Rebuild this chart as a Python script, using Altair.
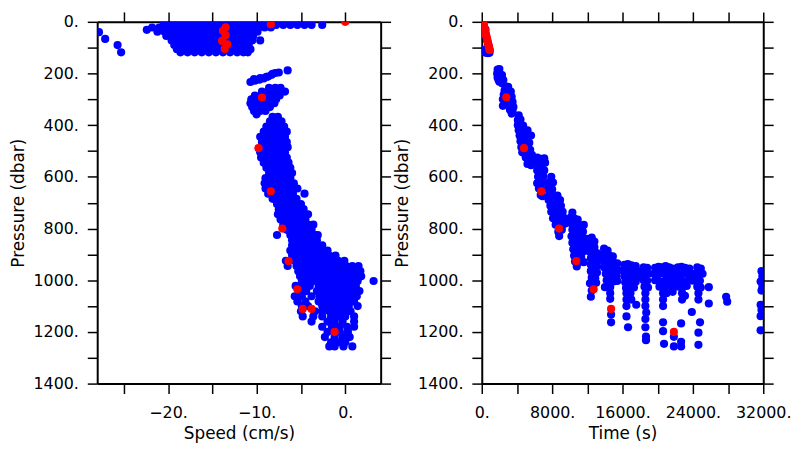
import altair as alt
import pandas as pd

# ======================= LEFT PANEL: Speed (cm/s) vs Pressure (dbar) =======================
# isolated near-surface points (speed, pressure)
surface_outliers = [(-27.8, 40), (-27.1, 66), (-25.7, 90), (-25.3, 118), (-22.4, 31)]

# near-surface cloud: pressure levels and the speeds observed at each
surface_p = [12, 22, 38, 55, 72, 90, 106, 118]
surface_speeds = [
    [-20.5, -19.8, -19.0, -18.2, -17.4, -16.6, -15.8, -15.0, -14.2, -13.4, -12.6, -11.8,
     -11.0, -10.2, -9.4, -8.6, -7.8, -7.0, -6.2, -5.4, -4.6, -3.8, -2.6],
    [-21.8, -21.0, -20.3, -19.6, -18.9, -18.2, -17.5, -16.8, -16.1, -15.4, -14.7, -14.0,
     -13.3, -12.6, -11.9, -11.2, -10.5, -9.8, -9.1, -8.4],
    [-21.2, -20.4, -19.7, -19.0, -18.3, -17.6, -16.9, -16.2, -15.5, -14.8, -14.1, -13.4,
     -12.7, -12.0, -11.3, -10.6, -9.9],
    [-20.2, -19.5, -18.8, -18.1, -17.4, -16.7, -16.0, -15.3, -14.6, -13.9, -13.2, -12.5,
     -11.8, -11.1, -10.4],
    [-19.6, -18.9, -18.2, -17.5, -16.8, -16.1, -15.4, -14.7, -14.0, -13.3, -12.6, -11.9,
     -11.2, -10.5, -9.6],
    [-19.3, -18.6, -17.9, -17.2, -16.5, -15.8, -15.1, -14.4, -13.7, -13.0, -12.3, -11.6, -10.9],
    [-19.0, -18.3, -17.6, -16.9, -16.2, -15.5, -14.8, -14.1, -13.4, -12.7, -12.0, -11.3, -10.7],
    [-18.6, -17.8, -17.0, -16.2, -15.4, -14.6, -13.8, -13.0, -12.2, -11.5, -11.0],
]

# streak near 200 dbar (speed, pressure)
streak_200 = [(-10.7, 233), (-10.2, 228), (-9.7, 224), (-9.2, 219), (-8.7, 212), (-8.3, 205),
              (-7.9, 198), (-7.5, 196), (-6.5, 188), (-10.3, 222), (-9.6, 218), (-8.9, 213),
              (-8.2, 201)]

# blob 250-360 dbar
blob_p = [255, 270, 285, 300, 315, 330, 345, 358]
blob_speeds = [
    [-8.6, -7.9, -7.3],
    [-9.4, -8.7, -8.0, -7.3, -6.8],
    [-10.2, -9.5, -8.8, -8.1, -7.4],
    [-10.6, -9.9, -9.2, -8.5, -7.8],
    [-10.7, -10.0, -9.3, -8.6, -8.0],
    [-10.5, -9.8, -9.1, -8.5],
    [-10.3, -9.6, -9.0],
    [-10.0],
]

# main column 365-1256 dbar
main_p = [368, 385, 405, 425, 445, 465, 485, 505, 525, 545, 565, 585, 605, 625, 645, 665,
          685, 705, 725, 745, 765, 785, 805, 825, 845, 865, 885, 905, 925, 945, 965, 985,
          1003, 1022, 1042, 1062, 1082, 1100, 1120, 1140, 1160, 1180, 1200, 1220, 1240, 1256]
main_speeds = [
    [-8.2, -7.6],
    [-8.5, -7.8, -7.2],
    [-8.9, -8.2, -7.5, -6.9],
    [-9.2, -8.5, -7.8, -7.1, -6.6],
    [-9.6, -8.9, -8.2, -7.5, -6.8],
    [-9.4, -8.7, -8.0, -7.3, -6.6],
    [-9.2, -8.5, -7.8, -7.1, -6.5],
    [-9.6, -8.9, -8.2, -7.5, -6.8],
    [-9.5, -8.8, -8.1, -7.4, -6.6],
    [-9.2, -8.5, -7.8, -7.1, -6.4],
    [-8.9, -8.2, -7.5, -6.8, -6.2],
    [-8.6, -7.9, -7.2, -6.5, -6.0],
    [-9.0, -8.3, -7.6, -6.9, -6.2],
    [-9.1, -8.4, -7.7, -7.0, -6.3, -5.8],
    [-9.0, -8.3, -7.6, -6.9, -6.2, -5.4],
    [-8.7, -8.0, -7.3, -6.6, -5.9, -4.6],
    [-8.2, -7.5, -6.8, -6.1, -5.5],
    [-7.7, -7.0, -6.3, -5.6, -5.0],
    [-7.5, -6.8, -6.1, -5.4, -4.7],
    [-7.6, -6.9, -6.2, -5.5, -4.8, -4.2],
    [-7.3, -6.6, -5.9, -5.2, -4.5],
    [-7.0, -6.3, -5.6, -4.9, -4.2, -3.6],
    [-6.6, -5.9, -5.2, -4.5, -3.8],
    [-7.7, -6.2, -5.5, -4.8, -4.1, -3.4, -3.1],
    [-6.0, -5.3, -4.6, -3.9, -3.2],
    [-6.0, -5.3, -4.6, -3.9, -3.2, -2.6],
    [-6.2, -5.5, -4.8, -4.1, -3.4, -2.7, -2.0],
    [-6.0, -5.3, -4.6, -3.9, -3.2, -2.5, -1.8, -1.1],
    [-6.7, -5.7, -5.0, -4.3, -3.6, -2.9, -2.2, -1.5, -0.8, -0.1],
    [-6.5, -5.5, -4.8, -4.1, -3.4, -2.7, -2.0, -1.3, -0.6, 0.1, 0.8, 1.5],
    [-5.3, -4.6, -3.9, -3.2, -2.5, -1.8, -1.1, -0.4, 0.3, 1.0, 1.7],
    [-5.1, -4.4, -3.7, -3.0, -2.3, -1.6, -0.9, -0.2, 0.5, 1.2, 1.8],
    [-4.9, -4.2, -3.5, -2.8, -2.1, -1.4, -0.7, 0.0, 0.7, 1.4, 3.2],
    [-5.6, -4.8, -4.0, -3.0, -2.3, -1.6, -0.9, -0.2, 0.5, 1.2],
    [-5.2, -4.4, -3.2, -2.5, -1.8, -1.1, -0.4, 0.3, 1.0, 1.6],
    [-5.7, -4.9, -3.8, -2.9, -2.2, -1.5, -0.8, -0.1, 0.6, 1.3],
    [-5.4, -4.5, -3.0, -2.2, -1.4, -0.6, 0.2, 1.0],
    [-4.9, -4.2, -2.6, -1.9, -1.2, -0.4, 0.4, 1.4],
    [-5.0, -3.4, -2.6, -1.8, -1.0, -0.2, 0.6],
    [-4.8, -3.6, -2.6, -1.6, -0.8, 0.0, 1.0],
    [-3.8, -2.0, -1.2, -0.3, 1.0],
    [-2.6, -1.5, -0.7, 0.2, 1.0],
    [-2.0, -0.6, 0.3],
    [-2.3, -1.2, -0.3, 0.5],
    [-1.6, -0.8, 0.0],
    [-1.8, -1.2, -0.2, 0.8],
]

# red (reference profile) points in speed panel
red_speed = [-13.5, -13.8, -13.5, -13.9, -13.3, -13.6, -8.4, 0.0, -9.4, -9.8, -8.4, -7.1,
             -6.4, -5.4, -4.8, -3.8, -1.2]
red_speed_p = [21, 35, 52, 74, 87, 105, 9, 0, 293, 489, 656, 800, 926, 1035, 1111, 1111, 1200]

# ======================= RIGHT PANEL: Time (s) vs Pressure (dbar) =======================
time_surface_blue = [(330, 40), (480, 55), (600, 70), (720, 85), (820, 98), (900, 110),
                     (880, 120), (700, 121), (520, 120), (380, 118), (300, 108), (250, 20),
                     (420, 30)]
time_surface_red = [(140, 0), (200, 8), (250, 16), (310, 24), (360, 32), (420, 40), (470, 48),
                    (530, 56), (580, 64), (640, 72), (700, 80), (750, 88), (810, 96),
                    (860, 104), (890, 109)]
time_g1 = [(1800, 185), (2000, 183), (1750, 200), (2050, 200), (2300, 206), (1800, 215),
           (2150, 218), (2450, 225), (2000, 232), (2300, 238), (1900, 224)]
time_g2 = [(2700, 250), (3000, 252), (2600, 265), (2900, 268), (3300, 270), (2500, 282),
           (2800, 285), (3100, 285), (3400, 290), (2400, 300), (2700, 300), (3000, 302),
           (3300, 305), (3500, 310), (2400, 325), (2700, 318), (3000, 320), (3300, 325),
           (3600, 330), (3200, 340), (3500, 345), (3400, 355)]
time_g3 = [(4200, 362), (4100, 380), (4400, 378), (4100, 400), (4400, 398), (4700, 402),
           (4200, 420), (4500, 420), (4800, 425), (5200, 420), (4300, 440), (4600, 445),
           (4900, 445), (5600, 440), (4400, 462), (4700, 465), (5000, 470), (5400, 468),
           (4500, 485), (5100, 490), (5500, 495), (4600, 505), (4900, 510), (5300, 512),
           (5700, 515)]
time_colA = [(5000, 525), (5400, 530), (5800, 540), (5200, 550), (5600, 555), (6300, 525),
             (6700, 530), (7100, 528), (6400, 550), (6800, 555), (7200, 545), (6300, 575),
             (6700, 580), (7100, 575), (6400, 600), (6800, 605), (7000, 598), (6300, 625),
             (6700, 628), (7000, 622), (6500, 645), (6900, 650), (6700, 670), (6900, 675)]
time_colB = [(7900, 600), (7700, 620), (8100, 622), (7600, 645), (8000, 648), (7700, 668),
             (8100, 670), (8600, 672), (7600, 690), (8000, 692), (8400, 694), (8900, 690),
             (7800, 712), (8200, 714), (8600, 716), (9000, 712), (7900, 735), (8300, 738),
             (8700, 740), (9200, 735), (8100, 760), (8500, 762), (8900, 764), (9300, 758),
             (8400, 785), (8800, 782), (9200, 785), (9500, 780), (8700, 812), (8800, 829),
             (9100, 805)]
time_colC = [(10300, 738), (10100, 758), (10500, 760), (10900, 765), (10200, 780), (10600, 782),
             (11000, 785), (11600, 786), (10300, 805), (10700, 808), (11100, 810), (11500, 812),
             (10200, 830), (10600, 832), (11000, 835), (11400, 838), (11900, 840), (10300, 855),
             (10700, 858), (11100, 860), (11500, 862), (11900, 868), (10400, 880), (10800, 882),
             (11200, 885), (11600, 888), (10500, 905), (10900, 908), (11300, 910), (10600, 928),
             (11000, 930), (11600, 930), (10800, 947)]
time_colD = [(12500, 835), (12800, 850), (12400, 860), (12800, 872), (12300, 890), (12700, 892),
             (13100, 895), (12400, 915), (12800, 918), (13100, 920), (12400, 940), (12800, 942),
             (13100, 945), (12400, 965), (12800, 968), (13100, 970), (12500, 990), (12900, 992),
             (12300, 1012), (12700, 1015), (13000, 1010), (12500, 1040), (12400, 1064)]
time_colE = [(13900, 878), (14300, 885), (13700, 900), (14100, 902), (14500, 905), (14900, 908),
             (13800, 925), (14200, 928), (14600, 930), (15000, 932), (15400, 935), (13900, 950),
             (14300, 952), (14700, 955), (15100, 958), (15500, 962), (14100, 975), (14500, 978),
             (14900, 980), (15300, 982), (14200, 1000), (14600, 1002), (15000, 1005),
             (15400, 1003), (14000, 1027), (14600, 1027), (14600, 1050), (14600, 1072),
             (14700, 1133), (14700, 1163)]
time_colF = [(16200, 940), (16600, 938), (17000, 942), (17500, 945), (16100, 962), (16500, 965),
             (16900, 968), (17300, 962), (17800, 966), (16200, 985), (16600, 988), (17000, 990),
             (17400, 985), (17800, 988), (16300, 1008), (16700, 1010), (17100, 1012),
             (17500, 1006), (16400, 1030), (16800, 1032), (17300, 1028), (16450, 1050),
             (16450, 1075), (16450, 1100), (16450, 1140), (16630, 1182), (17560, 1095),
             (16900, 1050), (17000, 1075)]
time_colG = [(18400, 950), (18800, 952), (18300, 975), (18700, 978), (19000, 975), (18400, 1000),
             (18800, 1002), (18500, 1025), (18900, 1028), (18600, 1050), (18600, 1075),
             (18600, 1100), (18700, 1125), (18600, 1150), (18600, 1182), (18670, 1218),
             (18670, 1232)]
time_colH = [(19700, 952), (20100, 948), (20500, 950), (20900, 945), (21300, 950), (21700, 955),
             (19600, 975), (20000, 978), (20400, 972), (20800, 975), (21200, 978), (21600, 980),
             (22000, 975), (19700, 1000), (20100, 1002), (20500, 1005), (20900, 1000),
             (21300, 1002), (21700, 1005), (20200, 1025), (20600, 1028), (21000, 1022),
             (21600, 1025), (20610, 1050), (20610, 1075), (20610, 1100), (20610, 1163),
             (20610, 1197), (20720, 1246), (21840, 1219), (21840, 1256), (21000, 1050),
             (21700, 1045)]
time_colI = [(22300, 950), (22700, 948), (23100, 952), (23600, 955), (22200, 975), (22600, 978),
             (23000, 975), (23400, 972), (23900, 975), (22300, 1000), (22700, 1002),
             (23100, 1005), (23500, 1000), (24000, 1002), (22400, 1025), (22800, 1028),
             (23300, 1022), (22770, 1050), (22770, 1075), (23100, 1060), (22660, 1167),
             (22660, 1238), (22660, 1256), (23880, 1123)]
time_colJ = [(24500, 950), (24900, 955), (24300, 975), (24700, 978), (25100, 975), (24400, 1000),
             (24800, 1002), (24500, 1025), (24900, 1028), (24630, 1050), (24630, 1075),
             (24810, 1163), (24630, 1203), (24630, 1250)]
time_late = [(25810, 1027), (25810, 1090), (27780, 1064), (27900, 1083), (31800, 965),
             (31900, 985), (31700, 1005), (31900, 1025), (31800, 1040), (31700, 1095),
             (31800, 1115), (31700, 1139), (31700, 1194)]
time_red_profile = [(2790, 292), (4800, 489), (6770, 656), (8780, 800), (10750, 926),
                    (12720, 1035), (14700, 1111), (21840, 1200)]

# tick values
pres_ticks = [0, 100, 200, 300, 400, 500, 600, 700, 800, 900, 1000, 1100, 1200, 1300, 1400]
speed_ticks = [-25, -20, -15, -10, -5, 0]
time_ticks = [0, 4000, 8000, 12000, 16000, 20000, 24000, 28000, 32000]

# ----------------------------------------------------------------------------------------
left_blue = [{"x": s, "p": p} for s, p in surface_outliers]
for p, xs in zip(surface_p, surface_speeds):
    left_blue += [{"x": x, "p": p} for x in xs]
left_blue += [{"x": s, "p": p} for s, p in streak_200]
for p, xs in zip(blob_p, blob_speeds):
    left_blue += [{"x": x, "p": p} for x in xs]
for p, xs in zip(main_p, main_speeds):
    left_blue += [{"x": x, "p": p} for x in xs]
left_blue_df = pd.DataFrame(left_blue)
left_red_df = pd.DataFrame({"x": red_speed, "p": red_speed_p})

right_blue = []
for grp in [time_surface_blue, time_g1, time_g2, time_g3, time_colA, time_colB, time_colC,
            time_colD, time_colE, time_colF, time_colG, time_colH, time_colI, time_colJ,
            time_late]:
    right_blue += [{"x": t, "p": p} for t, p in grp]
right_blue_df = pd.DataFrame(right_blue)
right_red_df = pd.DataFrame([{"x": t, "p": p} for t, p in time_surface_red + time_red_profile])

FONT = "DejaVu Sans"
axis_style = dict(
    tickSize=10, tickWidth=1.5, tickColor="black",
    domainColor="black", domainWidth=2, grid=False,
    labelFont=FONT, labelFontSize=16, labelColor="black", labelFlush=False,
    labelOverlap=False, titleFont=FONT, titleFontSize=17, titleFontWeight="normal",
    titleColor="black",
)

PRES_EXPR = "datum.value % 200 == 0 ? format(datum.value, 'd') + '.' : ''"
DOT = 68


def panel(blue_df, red_df, xdomain, xticks, xlabel_expr, xtitle, width):
    xs = alt.Scale(domain=xdomain, nice=False, zero=False)
    ys = alt.Scale(domain=[0, 1400], reverse=True, nice=False, zero=False)
    blue = alt.Chart(blue_df).mark_circle(color="#0000ff", size=DOT, opacity=1, clip=True).encode(
        x=alt.X("x:Q", scale=xs,
                axis=alt.Axis(orient="bottom", values=xticks, labelExpr=xlabel_expr,
                              title=xtitle, labelPadding=11, titlePadding=5, **axis_style)),
        y=alt.Y("p:Q", scale=ys,
                axis=alt.Axis(orient="left", values=pres_ticks, labelExpr=PRES_EXPR,
                              title="Pressure (dbar)", labelPadding=9, titlePadding=6,
                              **axis_style)),
    )
    red = alt.Chart(red_df).mark_circle(color="#ff0000", size=DOT, opacity=1, clip=True).encode(
        x=alt.X("x:Q", scale=xs,
                axis=alt.Axis(orient="top", values=xticks, labels=False, title=None,
                              **axis_style)),
        y=alt.Y("p:Q", scale=ys,
                axis=alt.Axis(orient="right", values=pres_ticks, labels=False, title=None,
                              **axis_style)),
    )
    return (alt.layer(blue, red)
            .resolve_scale(x="shared", y="shared")
            .resolve_axis(x="independent", y="independent")
            .properties(width=width, height=365))


left = panel(left_blue_df, left_red_df, [-28, 4], speed_ticks,
             "datum.value % 10 == 0 ? format(datum.value, 'd') + '.' : ''",
             "Speed (cm/s)", 286)
right = panel(right_blue_df, right_red_df, [0, 32000], time_ticks,
              "datum.value % 8000 == 0 ? format(datum.value, 'd') + '.' : ''",
              "Time (s)", 284)

chart = (alt.hconcat(left, right, spacing=0)
         .properties(padding={"left": 0, "top": 0, "right": 0, "bottom": 0})
         .configure_view(stroke="black", strokeWidth=2)
         .configure(background="white"))

chart.save("out.html", embed_options={"renderer": "svg", "actions": False})
